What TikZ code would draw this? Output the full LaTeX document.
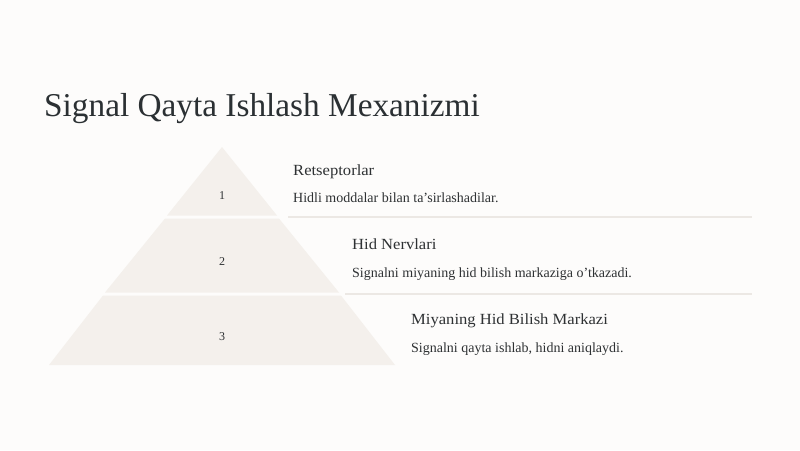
\documentclass[tikz,border=0pt]{standalone}
\usepackage{fontspec}
\setmainfont{Liberation Serif}
\newfontfamily\headf[FakeStretch=1.07]{Liberation Serif}
\definecolor{bgc}{HTML}{FDFCFB}
\definecolor{pyr}{HTML}{F4F0EC}
\definecolor{sep}{HTML}{ECE8E4}
\definecolor{titlec}{HTML}{2B3033}
\definecolor{txt}{HTML}{2E3133}
\begin{document}
\begin{tikzpicture}[x=1pt,y=-1pt,
  title/.style={anchor=base west,inner sep=0,text=titlec,font=\fontsize{33.3}{38}\selectfont},
  head/.style={anchor=base west,inner sep=0,text=txt,font=\headf\fontsize{15.5}{18}\selectfont},
  desc/.style={anchor=base west,inner sep=0,text=txt,font=\fontsize{14}{16}\selectfont},
  num/.style={inner sep=0,text=txt,font=\fontsize{12}{14}\selectfont},
  sepline/.style={draw=sep,line width=1.5pt}]
\fill[bgc] (0,0) rectangle (800,450);
\useasboundingbox (0,0) rectangle (800,450);
% pyramid: apex (222,147), base y=365 half-width 173
\fill[pyr] (222,147) -- (277.0,215.5) -- (167.0,215.5) -- cycle;
\fill[pyr] (165.0,218.5) -- (279.0,218.5) -- (339.0,292.5) -- (105.0,292.5) -- cycle;
\fill[pyr] (103.0,295.5) -- (341.0,295.5) -- (395.0,365) -- (49.0,365) -- cycle;
% separators
\coordinate (s1a) at (288,217); \coordinate (s1b) at (752,217);
\coordinate (s2a) at (345,294); \coordinate (s2b) at (752,294);
\draw[sepline] (s1a) -- (s1b);
\draw[sepline] (s2a) -- (s2b);
% title
\node[title] (t) at (44,116) {Signal Qayta Ishlash Mexanizmi};
% numbers
\node[num] (n1) at (222,196) {1};
\node[num] (n2) at (222,262) {2};
\node[num] (n3) at (222,337) {3};
% texts
\node[head] (h1) at (293,175) {Retseptorlar};
\node[desc] (d1) at (293,202) {Hidli moddalar bilan ta'sirlashadilar.};
\node[head] (h2) at (352,249) {Hid Nervlari};
\node[desc] (d2) at (352,277) {Signalni miyaning hid bilish markaziga o'tkazadi.};
\node[head] (h3) at (411,324) {Miyaning Hid Bilish Markazi};
\node[desc] (d3) at (411,352) {Signalni qayta ishlab, hidni aniqlaydi.};
\end{tikzpicture}
\end{document}
